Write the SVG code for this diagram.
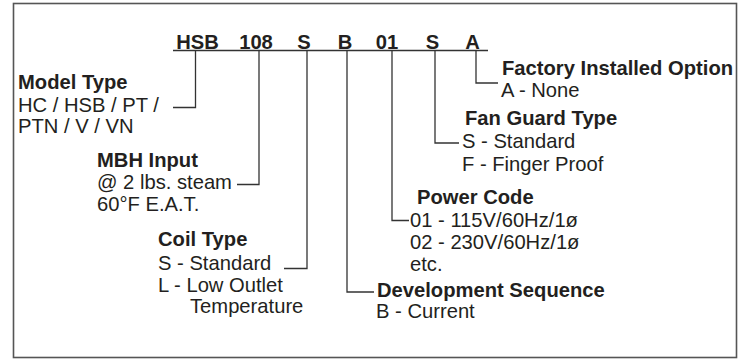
<svg xmlns="http://www.w3.org/2000/svg" width="741" height="360" viewBox="0 0 741 360">
<style>
text{font-family:"Liberation Sans",Arial,Helvetica,sans-serif;font-size:20.2px;fill:#231f20}
.b{font-weight:bold}
.h{font-weight:bold;text-anchor:middle}
.c{fill:none;stroke:#333;stroke-width:1.3}
</style>
<rect x="13.5" y="3.5" width="723" height="354" fill="#fff" stroke="#555" stroke-width="1.6"/>
<g id="code">
<text class="h" x="197.5" y="49">HSB</text>
<text class="h" x="256" y="49">108</text>
<text class="h" x="304" y="49">S</text>
<text class="h" x="345" y="49">B</text>
<text class="h" x="387" y="49">01</text>
<text class="h" x="432.5" y="49">S</text>
<text class="h" x="472.5" y="49">A</text>
</g>
<g id="connectors">
<path class="c" d="M173 50.5H488"/>
<path class="c" d="M195.5 50V107.5H173"/>
<path class="c" d="M259 50V184.5H237"/>
<path class="c" d="M307 50V268.5H284"/>
<path class="c" d="M347 50V292H374"/>
<path class="c" d="M392 50V220.5H409"/>
<path class="c" d="M435 50V143H459"/>
<path class="c" d="M476 50V83H498"/>
</g>
<g id="model-type">
<text class="b" x="18" y="89">Model Type</text>
<text x="18" y="111.5">HC / HSB / PT /</text>
<text x="18" y="133">PTN / V / VN</text>
</g>
<g id="mbh-input">
<text class="b" x="97" y="166.5">MBH Input</text>
<text x="97" y="188.5">@ 2 lbs. steam</text>
<text x="97" y="211">60°F E.A.T.</text>
</g>
<g id="coil-type">
<text class="b" x="158" y="246">Coil Type</text>
<text x="158" y="269.5">S - Standard</text>
<text x="158" y="291.5">L - Low Outlet</text>
<text x="190" y="312.5">Temperature</text>
</g>
<g id="development-sequence">
<text class="b" x="377" y="297">Development Sequence</text>
<text x="376" y="318">B - Current</text>
</g>
<g id="power-code">
<text class="b" x="417" y="204">Power Code</text>
<text x="410" y="227">01 - 115V/60Hz/1ø</text>
<text x="410" y="249">02 - 230V/60Hz/1ø</text>
<text x="410" y="271">etc.</text>
</g>
<g id="fan-guard-type">
<text class="b" x="465" y="124.5">Fan Guard Type</text>
<text x="462" y="148">S - Standard</text>
<text x="462" y="170.5">F - Finger Proof</text>
</g>
<g id="factory-installed-option">
<text class="b" x="502" y="75">Factory Installed Option</text>
<text x="501" y="97">A - None</text>
</g>
</svg>
